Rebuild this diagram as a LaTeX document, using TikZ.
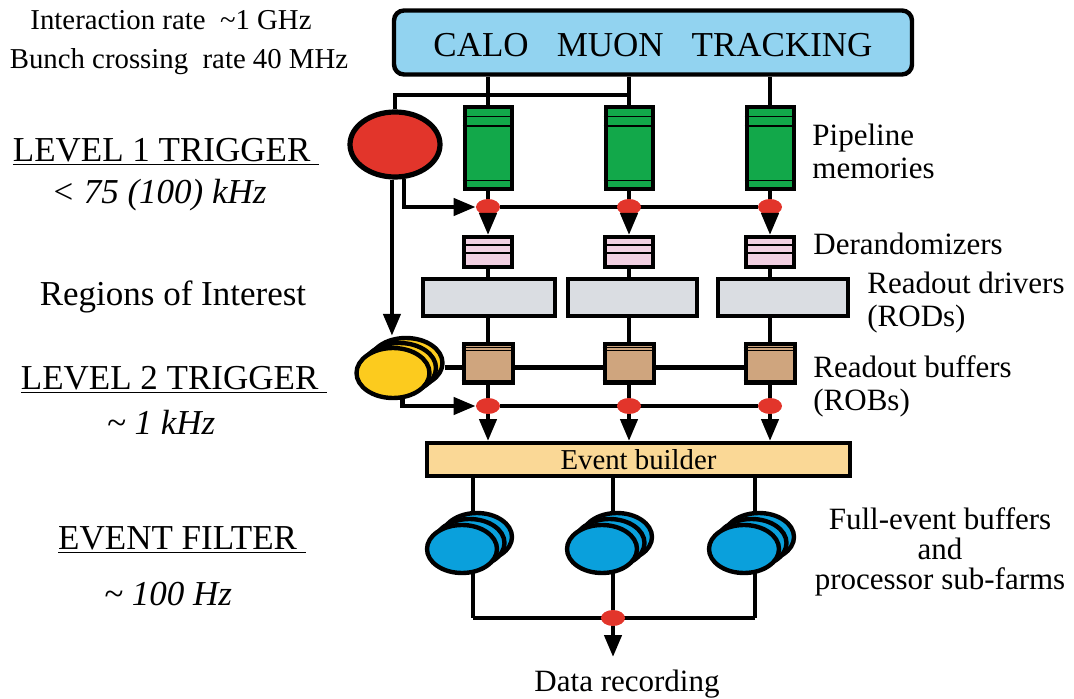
\documentclass[tikz,border=0pt]{standalone}
\usepackage{fontspec}
\setmainfont{Liberation Serif}
\usetikzlibrary{positioning,arrows.meta,calc,shapes.geometric,backgrounds}

\definecolor{detblue}{RGB}{146,211,240}
\definecolor{pipegreen}{RGB}{18,168,74}
\definecolor{dotred}{RGB}{226,53,43}
\definecolor{derpink}{RGB}{242,208,226}
\definecolor{rodgray}{RGB}{218,221,226}
\definecolor{robtan}{RGB}{207,165,126}
\definecolor{evorange}{RGB}{250,216,150}
\definecolor{l2yellow}{RGB}{252,203,30}
\definecolor{farmblue}{RGB}{10,160,220}

\begin{document}
\begin{tikzpicture}[x=0.5pt,y=-0.5pt,
  wire/.style={line width=2.2pt},
  arr/.style={wire,-{Triangle[length=11pt,width=8.5pt]}},
  stripe/.style={line width=0.8pt},
  box/.style={draw,line width=2pt,inner sep=0pt},
  pipebox/.style={box,fill=pipegreen,minimum width=23.5pt,minimum height=41pt},
  derbox/.style={box,fill=derpink,minimum width=24pt,minimum height=15pt},
  rodbox/.style={box,fill=rodgray,minimum width=65pt,minimum height=18.5pt},
  robbox/.style={box,fill=robtan,minimum width=24.5pt,minimum height=19.5pt},
  rdot/.style={ellipse,fill=dotred,minimum width=12pt,minimum height=8pt,inner sep=0pt},
  disc/.style={ellipse,draw,line width=2.2pt,inner sep=0pt},
  big/.style={inner sep=0pt,font=\fontsize{17.5}{20}\selectfont},
  bigit/.style={inner sep=0pt,font=\fontsize{17.5}{20}\selectfont\itshape},
  mid/.style={inner sep=0pt,font=\fontsize{15.5}{16.5}\selectfont},
  small/.style={inner sep=0pt,font=\fontsize{14.4}{16}\selectfont}]
\useasboundingbox (0,0) rectangle (1074,699);

% detectors
\node[box,line width=2.2pt,rounded corners=5pt,fill=detblue,minimum width=259pt,minimum height=32pt,
  text height=14pt,text depth=0pt,big] (det) at (653,42.5) {CALO\hspace{0.8em}MUON\hspace{0.8em}TRACKING};

% three readout columns
\foreach \i/\x in {1/488,2/629,3/770} {
  \node[pipebox] (pipe\i) at (\x,148) {};
  \node[rdot] (dotA\i) at (\x,207) {};
  \node[derbox] (der\i) at (\x,252) {};
  \node[robbox] (rob\i) at (\x,363.5) {};
  \node[rdot] (dotB\i) at (\x,406) {};
  \foreach \f in {0.134,0.244,0.878}
    \draw[stripe] ($(pipe\i.north west)!\f!(pipe\i.south west)$) -- ($(pipe\i.north east)!\f!(pipe\i.south east)$);
  \foreach \f in {0.3,0.53}
    \draw[stripe] ($(der\i.north west)!\f!(der\i.south west)$) -- ($(der\i.north east)!\f!(der\i.south east)$);
  \foreach \f in {0.13,0.2,0.9}
    \draw[stripe,line width=0.6pt] ($(rob\i.north west)!\f!(rob\i.south west)$) -- ($(rob\i.north east)!\f!(rob\i.south east)$);
}
\node[rodbox,minimum width=66pt] (rod1) at (489,297.5) {};
\node[rodbox,minimum width=64.5pt] (rod2) at (632.5,297.5) {};
\node[rodbox] (rod3) at (783,297.5) {};

% event builder
\node[box,fill=evorange,minimum width=211.5pt,minimum height=16.5pt,small] (evb) at (638.5,459.5) {Event builder};

% trigger processors
\node[disc,fill=dotred,line width=2.6pt,minimum width=45pt,minimum height=32.5pt] (lvl1) at (395,144.5) {};
\foreach \k/\dx/\dy in {c/13/10,b/6.5/5,a/0/0}
  \node[disc,fill=l2yellow,minimum width=36.5pt,minimum height=25pt] (lvl2\k) at (393+\dx,373-\dy) {};

% sub-farms
\foreach \i/\x in {1/473,2/613,3/755} {
  \coordinate (sink\i) at (\x,618);
  \foreach \k/\dx/\dy in {c/15/12,b/7.5/6,a/0/0}
    \node[disc,fill=farmblue,minimum width=35pt,minimum height=24pt] (farm\i\k) at (\x-11+\dx,549-\dy) {};
}
\node[rdot] (dotC) at (sink2) {};
\coordinate (rec) at (613,657);
\coordinate (tap) at (629,95);
\coordinate (l1out) at (lvl1.-95);

% wires behind the boxes
\begin{scope}[on background layer]
  \foreach \i in {1,2,3} \draw[wire] (det.south -| pipe\i) -- (pipe\i.north);
  \draw[wire] (dotA1) -- (dotA3);
  \draw[wire] (dotB1) -- (dotB3);
  \draw[wire] ([yshift=-2pt]rob1.center -| lvl2c.east) -- ([yshift=-2pt]rob3.center);
  \foreach \i in {1,2,3} \draw[wire] (evb.south -| sink\i) -- (sink\i);
  \draw[wire] (sink1) -- (sink3);
\end{scope}

\foreach \i in {1,2,3} {
  \draw[wire] (pipe\i) -- (dotA\i);
  \draw[arr] (dotA\i) -- (der\i);
  \draw[wire] (der\i) -- (der\i |- rod\i.north);
  \draw[wire] (rob\i |- rod\i.south) -- (rob\i);
  \draw[wire] (rob\i) -- (dotB\i);
  \draw[arr] (dotB\i) -- (dotB\i |- evb.north);
}
\draw[wire] (lvl1.north) |- (tap);
\draw[arr] (lvl1.-75) |- (dotA1);
\draw[arr] (l1out) -- (l1out |- lvl2c.north);
\draw[arr] (lvl2a.-70) |- (dotB1);
\draw[arr] (dotC) -- (rec);

% labels
\node[small] (rate1) at (171,20) {Interaction rate\ \ \textasciitilde1 GHz};
\node[small] (rate2) at (179,62) {Bunch crossing\ \ rate 40 MHz};
\node[big] (lvlonelab) at (166,152) {\underline{LEVEL 1 TRIGGER\ }};
\node[bigit] (lvlonerate) at (159,195) {< 75 (100) kHz};
\node[big] (roilab) at (173,297) {Regions of Interest};
\node[big] (lvltwolab) at (174,380) {\underline{LEVEL 2 TRIGGER\ }};
\node[bigit] (lvltworate) at (161,422) {\textasciitilde\ 1 kHz};
\node[big] (eflab) at (182,540) {\underline{EVENT FILTER\ }};
\node[bigit] (efrate) at (168,594) {\textasciitilde\ 100 Hz};

\node[mid,anchor=west,align=left] (pipelab) at (812,151) {Pipeline\\memories};
\node[mid,anchor=west] (derlab) at (813,244) {Derandomizers};
\node[mid,anchor=west,align=left] (rodlab) at (867,303) {Readout drivers\\(RODs)};
\node[mid,anchor=west,align=left] (roblab) at (813,386) {Readout buffers\\(ROBs)};
\node[mid,align=center,font=\fontsize{15.5}{15}\selectfont] (farmlab) at (940,552) {Full-event buffers\\and\\processor sub-farms};
\node[mid] (reclab) at (627,684) {Data recording};
\end{tikzpicture}
\end{document}
